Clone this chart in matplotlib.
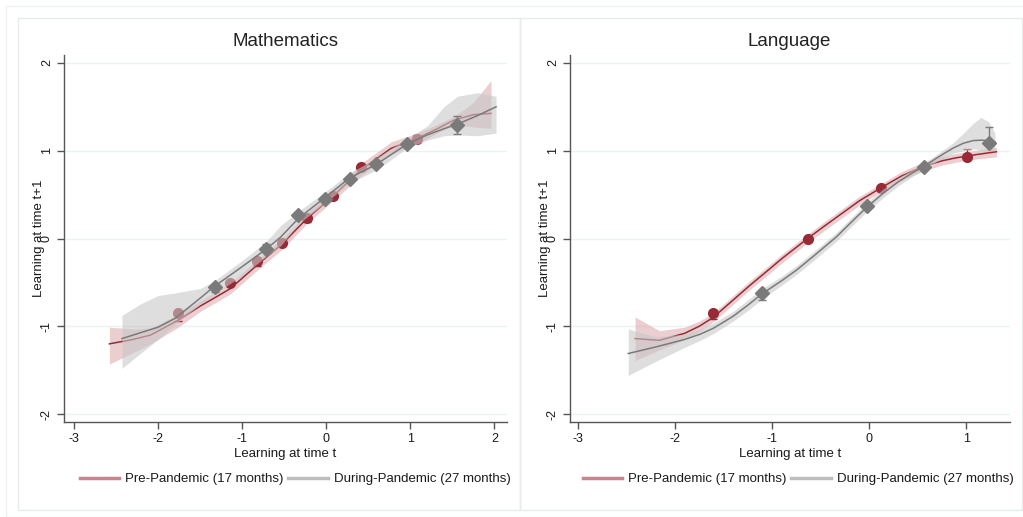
import matplotlib
matplotlib.use("Agg")
import matplotlib.pyplot as plt
from matplotlib import font_manager
from matplotlib.lines import Line2D
from matplotlib.patches import Rectangle

# ---------------- data ----------------
titles = ["Mathematics", "Language"]
legend_labels = ["Pre-Pandemic (17 months)", "During-Pandemic (27 months)"]
x_label = "Learning at time t"
y_label = "Learning at time t+1"
y_ticks = [-2, -1, 0, 1, 2]

# Mathematics - pre-pandemic (red)
math_pre_x = [-1.766, -1.147, -0.821, -0.524, -0.226, 0.079, 0.408, 1.083]
math_pre_y = [-0.844, -0.502, -0.255, -0.046, 0.228, 0.482, 0.810, 1.129]
math_pre_elo = [0.10, 0.03, 0.06, 0.03, 0.04, 0.03, 0.03, 0.03]
math_pre_ehi = [0.02, 0.03, 0.02, 0.03, 0.02, 0.03, 0.03, 0.05]
math_pre_fx = [-2.58, -2.3, -2.09, -1.76, -1.5, -1.3, -1.14, -0.82, -0.52, -0.23, 0.07, 0.41, 0.77, 1.08, 1.3, 1.52, 1.75, 1.96]
math_pre_fy = [-1.20, -1.15, -1.10, -0.93, -0.77, -0.66, -0.57, -0.30, -0.057, 0.228, 0.474, 0.779, 1.026, 1.14, 1.24, 1.349, 1.41, 1.425]
math_pre_hi = [-1.01, -1.03, -1.02, -0.86, -0.71, -0.60, -0.51, -0.24, 0.0, 0.29, 0.53, 0.85, 1.10, 1.20, 1.29, 1.39, 1.55, 1.80]
math_pre_lo = [-1.43, -1.30, -1.20, -1.01, -0.83, -0.72, -0.63, -0.36, -0.12, 0.17, 0.42, 0.71, 0.96, 1.08, 1.19, 1.30, 1.27, 1.254]

# Mathematics - during pandemic (gray)
math_dur_x = [-1.326, -0.714, -0.338, -0.016, 0.281, 0.590, 0.964, 1.551]
math_dur_y = [-0.552, -0.125, 0.266, 0.448, 0.676, 0.847, 1.072, 1.292]
math_dur_elo = [0.06, 0.02, 0.03, 0.03, 0.03, 0.03, 0.03, 0.10]
math_dur_ehi = [0.02, 0.06, 0.03, 0.03, 0.03, 0.03, 0.03, 0.10]
math_dur_fx = [-2.43, -2.2, -2.0, -1.8, -1.5, -1.34, -1.0, -0.72, -0.54, -0.33, -0.03, 0.27, 0.6, 0.96, 1.2, 1.4, 1.56, 1.8, 2.02]
math_dur_fy = [-1.14, -1.07, -1.01, -0.91, -0.68, -0.552, -0.32, -0.125, 0.018, 0.23, 0.456, 0.684, 0.847, 1.075, 1.18, 1.25, 1.303, 1.40, 1.50]
math_dur_hi = [-0.875, -0.74, -0.65, -0.62, -0.57, -0.49, -0.25, -0.04, 0.15, 0.31, 0.52, 0.74, 0.92, 1.14, 1.28, 1.50, 1.62, 1.66, 1.62]
math_dur_lo = [-1.48, -1.30, -1.15, -0.98, -0.75, -0.64, -0.42, -0.21, -0.08, 0.17, 0.39, 0.63, 0.78, 1.03, 1.12, 1.17, 1.18, 1.17, 1.20]

# Language - pre-pandemic (red)
lang_pre_x = [-1.607, -0.634, 0.117, 1.009]
lang_pre_y = [-0.844, -0.011, 0.574, 0.924]
lang_pre_elo = [0.07, 0.02, 0.02, 0.02]
lang_pre_ehi = [0.02, 0.02, 0.02, 0.10]
lang_pre_fx = [-2.41, -2.16, -1.9, -1.75, -1.607, -1.42, -1.226, -1.05, -0.9, -0.634, -0.45, -0.3, -0.1, 0.117, 0.33, 0.556, 0.75, 0.9, 1.1, 1.31]
lang_pre_fy = [-1.14, -1.16, -1.08, -1.00, -0.90, -0.72, -0.532, -0.37, -0.23, 0.0, 0.15, 0.27, 0.43, 0.574, 0.71, 0.820, 0.885, 0.92, 0.955, 0.988]
lang_pre_hi = [-0.894, -1.05, -1.01, -0.94, -0.85, -0.67, -0.48, -0.32, -0.18, 0.05, 0.20, 0.32, 0.48, 0.62, 0.76, 0.87, 0.935, 0.97, 1.005, 1.04]
lang_pre_lo = [-1.39, -1.27, -1.15, -1.06, -0.95, -0.77, -0.58, -0.42, -0.28, -0.05, 0.10, 0.22, 0.38, 0.53, 0.66, 0.77, 0.835, 0.87, 0.905, 0.93]

# Language - during pandemic (gray)
lang_dur_x = [-1.102, -0.021, 0.563, 1.236]
lang_dur_y = [-0.616, 0.368, 0.817, 1.09]
lang_dur_elo = [0.09, 0.02, 0.02, 0.02]
lang_dur_ehi = [0.02, 0.02, 0.02, 0.18]
lang_dur_fx = [-2.48, -2.2, -1.9, -1.74, -1.6, -1.4, -1.25, -1.102, -0.9, -0.748, -0.55, -0.336, -0.18, -0.021, 0.15, 0.3, 0.45, 0.563, 0.7, 0.865, 0.97, 1.071, 1.15, 1.23, 1.295]
lang_dur_fy = [-1.31, -1.236, -1.15, -1.09, -1.02, -0.885, -0.76, -0.63, -0.48, -0.36, -0.18, 0.02, 0.19, 0.36, 0.52, 0.646, 0.75, 0.82, 0.92, 1.03, 1.085, 1.115, 1.12, 1.115, 1.10]
lang_dur_hi = [-1.03, -1.12, -1.09, -1.03, -0.96, -0.83, -0.70, -0.57, -0.43, -0.31, -0.13, 0.07, 0.24, 0.41, 0.57, 0.69, 0.79, 0.86, 0.96, 1.09, 1.20, 1.31, 1.38, 1.33, 1.20]
lang_dur_lo = [-1.56, -1.40, -1.24, -1.16, -1.08, -0.94, -0.82, -0.69, -0.53, -0.41, -0.23, -0.03, 0.14, 0.31, 0.47, 0.60, 0.71, 0.78, 0.88, 0.97, 1.00, 1.02, 1.01, 1.00, 1.00]

# ---------------- style ----------------
avail = {f.name for f in font_manager.fontManager.ttflist}
fam = "Liberation Sans Narrow" if "Liberation Sans Narrow" in avail else "Liberation Sans"
plt.rcParams["font.family"] = [fam, "DejaVu Sans"]

RED = "#982a36"
RED_BAND = "#d9a6ab"
RED_LEG = "#c7868d"
GRAY = "#7a7a7a"
GRAY_BAND = "#c8c8c8"
GRAY_LEG = "#bdbdbd"
AXC = "#555555"
TXT = "#1a1a1a"

W, H = 1023, 517
fig = plt.figure(figsize=(W / 100, H / 100), dpi=100)
fig.patch.set_facecolor("white")

def px(x0, y0, x1, y1):
    return [x0 / W, 1 - y1 / H, (x1 - x0) / W, (y1 - y0) / H]

# panel frames
fig.add_artist(Rectangle((6 / W, 0), 1, 1 - 6 / H, transform=fig.transFigure,
                         fill=False, ec="#eef3f3", lw=1))
fig.add_artist(Rectangle((18 / W, 1 - 510 / H), (520 - 18) / W, (510 - 18) / H,
                         transform=fig.transFigure, fill=False, ec="#e6ecec", lw=1))
fig.add_artist(Rectangle((520 / W, 1 - 510 / H), (1022 - 520) / W, (510 - 18) / H,
                         transform=fig.transFigure, fill=False, ec="#e6ecec", lw=1))

panels = [
    dict(rect=px(64, 55, 507, 422), xlim=(-3.12, 2.15), xticks=[-3, -2, -1, 0, 1, 2],
         pre=(math_pre_x, math_pre_y, math_pre_elo, math_pre_ehi, math_pre_fx, math_pre_fy, math_pre_lo, math_pre_hi),
         dur=(math_dur_x, math_dur_y, math_dur_elo, math_dur_ehi, math_dur_fx, math_dur_fy, math_dur_lo, math_dur_hi),
         cx=285, lx=295),
    dict(rect=px(570, 55, 1010, 422), xlim=(-3.08, 1.45), xticks=[-3, -2, -1, 0, 1],
         pre=(lang_pre_x, lang_pre_y, lang_pre_elo, lang_pre_ehi, lang_pre_fx, lang_pre_fy, lang_pre_lo, lang_pre_hi),
         dur=(lang_dur_x, lang_dur_y, lang_dur_elo, lang_dur_ehi, lang_dur_fx, lang_dur_fy, lang_dur_lo, lang_dur_hi),
         cx=789, lx=798),
]

for i, p in enumerate(panels):
    ax = fig.add_axes(p["rect"])
    ax.set_xlim(*p["xlim"])
    ax.set_ylim(-2.09, 2.09)
    for yt in y_ticks:
        ax.axhline(yt, color="#eaf2f2", lw=1, zorder=0)
    px_, py_, pel, peh, pfx, pfy, plo, phi = p["pre"]
    dx_, dy_, del_, deh, dfx, dfy, dlo, dhi = p["dur"]
    # pre-pandemic
    ax.fill_between(pfx, plo, phi, color=RED_BAND, alpha=0.55, lw=0, zorder=1)
    ax.errorbar(px_, py_, yerr=[pel, peh], fmt="o", color=RED, ms=7, capsize=3,
                elinewidth=1, capthick=1, zorder=2)
    ax.plot(pfx, pfy, color=RED, lw=1.1, zorder=2, solid_joinstyle="round")
    # during pandemic
    ax.fill_between(dfx, dlo, dhi, color=GRAY_BAND, alpha=0.6, lw=0, zorder=3)
    ax.plot(dfx, dfy, color=GRAY, lw=1.1, zorder=4, solid_joinstyle="round")
    ax.errorbar(dx_, dy_, yerr=[del_, deh], fmt="D", color=GRAY, ms=7, capsize=3,
                elinewidth=1, capthick=1, zorder=5)

    for s in ["top", "right"]:
        ax.spines[s].set_visible(False)
    for s in ["left", "bottom"]:
        ax.spines[s].set_color(AXC)
        ax.spines[s].set_linewidth(1)
    ax.set_xticks(p["xticks"])
    ax.set_yticks(y_ticks)
    ax.set_xticklabels([str(t) for t in p["xticks"]])
    ax.set_yticklabels([str(t) for t in y_ticks], rotation=90, va="center")
    ax.tick_params(axis="both", colors=AXC, labelcolor=TXT, labelsize=9, length=5, width=1, pad=3)
    ax.set_xlabel(x_label, fontsize=9.5, color=TXT, labelpad=2)
    ax.set_ylabel(y_label, fontsize=9.5, color=TXT, labelpad=-3)

    fig.text(p["cx"] / W, 1 - 42 / H, titles[i], ha="center", va="center",
             fontsize=13.5, color="#222222")
    handles = [Line2D([0], [0], color=RED_LEG, lw=2.5),
               Line2D([0], [0], color=GRAY_LEG, lw=2.5)]
    fig.legend(handles, legend_labels, loc="center",
               bbox_to_anchor=(p["lx"] / W, 1 - 479 / H), ncol=2, frameon=False,
               fontsize=9.5, handlelength=3.0, handletextpad=0.45, columnspacing=0.35,
               labelcolor=TXT, borderpad=0.2)

fig.savefig("out.png", dpi=100)
